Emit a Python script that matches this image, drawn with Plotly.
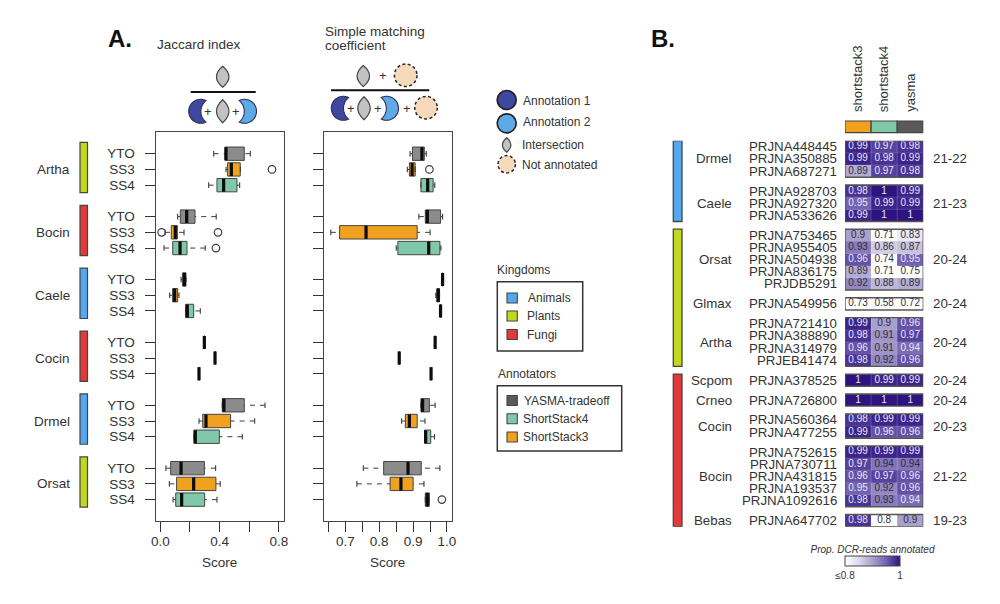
import math
import plotly.graph_objects as go

W, H = 1000, 604
FONT = "Liberation Sans"
INK = "#333333"

# ---------- Panel A data ----------
species = ["Artha", "Bocin", "Caele", "Cocin", "Drmel", "Orsat"]
species_kingdom = ["Plants", "Fungi", "Animals", "Fungi", "Animals", "Plants"]
annotators = ["YTO", "SS3", "SS4"]

j_low = [0.360, 0.443, 0.326, 0.117, 0.032, 0.025, 0.140, 0.063, 0.171, 0.297, 0.369, 0.261, 0.418, 0.261, 0.227, 0.038, 0.061, 0.086]
j_q1 = [0.436, 0.454, 0.382, 0.135, 0.074, 0.084, 0.151, 0.083, 0.171, 0.297, 0.369, 0.261, 0.418, 0.286, 0.227, 0.070, 0.110, 0.104]
j_med = [0.443, 0.479, 0.427, 0.178, 0.101, 0.133, 0.162, 0.097, 0.182, 0.297, 0.369, 0.261, 0.429, 0.308, 0.236, 0.140, 0.225, 0.144]
j_q3 = [0.566, 0.539, 0.517, 0.234, 0.115, 0.180, 0.173, 0.117, 0.225, 0.297, 0.369, 0.261, 0.566, 0.474, 0.398, 0.297, 0.375, 0.299]
j_high = [0.607, 0.540, 0.535, 0.377, 0.160, 0.303, 0.173, 0.126, 0.270, 0.297, 0.369, 0.261, 0.706, 0.636, 0.553, 0.373, 0.404, 0.382]
j_out_row = [1, 4, 4, 5]
j_out_val = [0.753, 0.009, 0.389, 0.375]

s_low = [0.891, 0.883, 0.923, 0.917, 0.657, 0.850, 0.987, 0.967, 0.981, 0.965, 0.859, 0.953, 0.923, 0.866, 0.934, 0.753, 0.734, 0.936]
s_q1 = [0.898, 0.889, 0.923, 0.936, 0.683, 0.855, 0.987, 0.970, 0.981, 0.965, 0.859, 0.953, 0.923, 0.877, 0.934, 0.813, 0.832, 0.936]
s_med = [0.926, 0.897, 0.943, 0.942, 0.761, 0.946, 0.987, 0.974, 0.981, 0.965, 0.859, 0.953, 0.928, 0.889, 0.937, 0.885, 0.864, 0.942]
s_q3 = [0.933, 0.906, 0.959, 0.981, 0.912, 0.979, 0.987, 0.978, 0.981, 0.965, 0.859, 0.953, 0.948, 0.912, 0.952, 0.924, 0.900, 0.948]
s_high = [0.939, 0.906, 0.964, 0.987, 0.950, 0.982, 0.987, 0.978, 0.981, 0.965, 0.859, 0.953, 0.965, 0.935, 0.963, 0.979, 0.932, 0.948]
s_out_row = [1, 17]
s_out_val = [0.948, 0.985]

# ---------- Panel B data ----------
heat_species = ["Drmel", "Caele", "Orsat", "Glmax", "Artha", "Scpom", "Crneo", "Cocin", "Bocin", "Bebas"]
heat_kingdom = ["Animals", "Animals", "Plants", "Plants", "Plants", "Fungi", "Fungi", "Fungi", "Fungi", "Fungi"]
heat_years = ["21-22", "21-23", "20-24", "20-24", "20-24", "20-24", "20-24", "20-23", "21-22", "19-23"]
heat_ids = [
    ["PRJNA448445", "PRJNA350885", "PRJNA687271"],
    ["PRJNA928703", "PRJNA927320", "PRJNA533626"],
    ["PRJNA753465", "PRJNA955405", "PRJNA504938", "PRJNA836175", "PRJDB5291"],
    ["PRJNA549956"],
    ["PRJNA721410", "PRJNA388890", "PRJNA314979", "PRJEB41474"],
    ["PRJNA378525"],
    ["PRJNA726800"],
    ["PRJNA560364", "PRJNA477255"],
    ["PRJNA752615", "PRJNA730711", "PRJNA431815", "PRJNA193537", "PRJNA1092616"],
    ["PRJNA647702"],
]
heat_values = [
    [[0.99, 0.97, 0.98], [0.99, 0.98, 0.99], [0.89, 0.97, 0.98]],
    [[0.98, 1, 0.99], [0.95, 0.99, 0.99], [0.99, 1, 1]],
    [[0.90, 0.71, 0.83], [0.93, 0.86, 0.87], [0.96, 0.74, 0.95], [0.89, 0.71, 0.75], [0.92, 0.88, 0.89]],
    [[0.73, 0.58, 0.72]],
    [[0.99, 0.90, 0.96], [0.98, 0.91, 0.97], [0.96, 0.91, 0.944], [0.98, 0.92, 0.96]],
    [[1, 0.99, 0.99]],
    [[1, 1, 1]],
    [[0.98, 0.99, 0.99], [0.99, 0.96, 0.96]],
    [[0.99, 0.99, 0.99], [0.97, 0.936, 0.936], [0.96, 0.97, 0.96], [0.95, 0.92, 0.96], [0.98, 0.93, 0.944]],
    [[0.98, 0.80, 0.90]],
]
heat_columns = ["shortstack3", "shortstack4", "yasma"]

legend_sets = ["Annotation 1", "Annotation 2", "Intersection", "Not annotated"]
kingdoms = ["Animals", "Plants", "Fungi"]
annotator_names = ["YASMA-tradeoff", "ShortStack4", "ShortStack3"]

# ---------- Styles ----------
KCOL = {"Animals": "#55a8f0", "Plants": "#c2d81e", "Fungi": "#e03a3a"}
FILL = {"YTO": "#8b8b8b", "SS3": "#f0a21f", "SS4": "#7fc8a9"}
ANNOT = {"YASMA-tradeoff": "#595959", "ShortStack4": "#7fc8a9", "ShortStack3": "#f0a21f"}
COLSTRIP = ["#f0a21f", "#7fc8a9", "#595959"]
OUT = "#3d3d3d"
C1, C2, LENS, NOTA = "#3f489f", "#5eaae6", "#c2c2c2", "#f6d9bb"
LABEL_SIZE = 13.3

# ---------- Helpers ----------
def fx(x):
    return x / W

def fy(y):
    return 1 - y / H

fig = go.Figure()
shapes = []
notes = []

def note(x, y, text, size=12, anchor="left", color=INK, angle=0, yanchor="middle"):
    shift = -2 if anchor == "left" else 0
    notes.append(dict(x=fx(x + shift), y=fy(y), xref="paper", yref="paper", text=text, showarrow=False,
                      xanchor=anchor, yanchor=yanchor, textangle=angle,
                      font=dict(family=FONT, size=size, color=color)))

def paper_path(points):
    return "M" + "L".join(f"{fx(a):.5f},{fy(b):.5f}" for a, b in points) + "Z"

def lens(cx, cy, w, h):
    shapes.append(dict(type="path", xref="paper", yref="paper", fillcolor=LENS,
                       line=dict(color="#444444", width=1.2),
                       path=f"M{fx(cx):.5f},{fy(cy-h/2):.5f}Q{fx(cx+w):.5f},{fy(cy):.5f} {fx(cx):.5f},{fy(cy+h/2):.5f}"
                            f"Q{fx(cx-w):.5f},{fy(cy):.5f} {fx(cx):.5f},{fy(cy-h/2):.5f}Z"))

def crescent(x_outer, cy, side, color):
    # side=+1: opens to the right (outer edge at x_outer); side=-1: mirrored
    R, d, r = 12.0, 14.0, 13.8
    cx = x_outer + side * R
    tx = (d * d + R * R - r * r) / (2 * d)
    ty = math.sqrt(R * R - tx * tx)
    a0 = math.atan2(ty, tx)
    pts = []
    n = 40
    for i in range(n + 1):
        a = a0 + (2 * math.pi - 2 * a0) * i / n
        pts.append((cx + side * R * math.cos(a), cy + R * math.sin(a)))
    b0 = math.atan2(ty, tx - d)
    b1 = 2 * math.pi - b0
    for i in range(n + 1):
        a = b1 + (b0 - b1) * i / n
        pts.append((cx + side * (d + r * math.cos(a)), cy + r * math.sin(a)))
    shapes.append(dict(type="path", xref="paper", yref="paper", path=paper_path(pts), fillcolor=color,
                       line=dict(color="#2b2f55", width=1.1)))

def disc(cx, cy, r, color, dashed=False, lw=1.5):
    shapes.append(dict(type="circle", xref="paper", yref="paper",
                       x0=fx(cx - r), x1=fx(cx + r), y0=fy(cy + r), y1=fy(cy - r), fillcolor=color,
                       line=dict(color="#222222", width=lw, dash="3px,2.5px" if dashed else "solid")))

def rect(x0, y0, x1, y1, fill="rgba(0,0,0,0)", line="#333333", lw=1.5):
    shapes.append(dict(type="rect", xref="paper", yref="paper", x0=fx(x0), x1=fx(x1), y0=fy(y1), y1=fy(y0),
                       fillcolor=fill, line=dict(color=line, width=lw)))

def rule(x0, x1, y):
    shapes.append(dict(type="line", xref="paper", yref="paper", x0=fx(x0), x1=fx(x1), y0=fy(y), y1=fy(y),
                       line=dict(color="#111111", width=2)))

# ---------- Boxplots ----------
rows = [g * 4 + a for g in range(len(species)) for a in range(3)]
row_labels = [a for _ in species for a in annotators]

def add_panel(low, q1, med, q3, high, out_row, out_val, xa, ya):
    for k, name in enumerate(annotators):
        idx = [i for i in range(len(rows)) if i % 3 == k]
        fig.add_trace(go.Box(
            y=[rows[i] for i in idx], q1=[q1[i] for i in idx], median=[med[i] for i in idx],
            q3=[q3[i] for i in idx], lowerfence=[q1[i] for i in idx], upperfence=[q3[i] for i in idx],
            orientation="h", width=0.85, whiskerwidth=0, boxpoints=False, name=name, showlegend=False,
            fillcolor=FILL[name], line=dict(color="#444444", width=1), xaxis=xa, yaxis=ya))
    wx, wy = [], []
    for i, r in enumerate(rows):
        if low[i] < q1[i]:
            wx += [low[i], q1[i], None]
            wy += [r, r, None]
        if high[i] > q3[i]:
            wx += [high[i], q3[i], None]
            wy += [r, r, None]
    fig.add_trace(go.Scatter(x=wx, y=wy, mode="lines", line=dict(color=OUT, width=1, dash="5px,5px"),
                             showlegend=False, hoverinfo="skip", xaxis=xa, yaxis=ya))
    cx = [v for i in range(len(rows)) for v in (low[i], high[i]) if low[i] < q3[i]]
    cy = [rows[i] for i in range(len(rows)) for _ in (0, 1) if low[i] < q3[i]]
    fig.add_trace(go.Scatter(x=cx, y=cy, mode="markers", showlegend=False, hoverinfo="skip", xaxis=xa, yaxis=ya,
                             marker=dict(symbol="line-ns", size=4, color=OUT, line=dict(color=OUT, width=1.1))))
    fig.add_trace(go.Scatter(x=med, y=rows, mode="markers", showlegend=False, xaxis=xa, yaxis=ya,
                             marker=dict(symbol="line-ns", size=9.3, color="#0c0c0c",
                                         line=dict(color="#0c0c0c", width=3.2))))
    fig.add_trace(go.Scatter(x=out_val, y=[rows[i] for i in out_row], mode="markers", showlegend=False,
                             xaxis=xa, yaxis=ya,
                             marker=dict(symbol="circle-open", size=7.5, color=OUT, line=dict(color=OUT, width=1.2))))

add_panel(j_low, j_q1, j_med, j_q3, j_high, j_out_row, j_out_val, "x", "y")
add_panel(s_low, s_q1, s_med, s_q3, s_high, s_out_row, s_out_val, "x2", "y2")

# Kingdom strips and species names beside panel A
for g, (sp, king) in enumerate(zip(species, species_kingdom)):
    mid = g * 4 + 1
    shapes.append(dict(type="rect", xref="paper", yref="y", x0=fx(80), x1=fx(87.5), y0=mid - 1.72, y1=mid + 1.48,
                       fillcolor=KCOL[king], line=dict(color="#444444", width=1.2)))
    notes.append(dict(x=fx(72), y=mid, xref="paper", yref="y", text=sp, showarrow=False, xanchor="right",
                      yanchor="middle", font=dict(family=FONT, size=13.5, color=INK)))

# ---------- Heatmap ----------
GAP = 0.633
pos = 0.0
tx, ty, tt, tc = [], [], [], []
for b, (ids, vals) in enumerate(zip(heat_ids, heat_values)):
    ys = [pos + i for i in range(len(ids))]
    fig.add_trace(go.Heatmap(z=vals, x=list(range(3)), y=ys, coloraxis="coloraxis", xaxis="x3", yaxis="y3",
                             showlegend=False))
    for y, label, row in zip(ys, ids, vals):
        notes.append(dict(x=fx(839), y=y, xref="paper", yref="y3", text=label, showarrow=False, xanchor="right",
                          yanchor="middle", font=dict(family=FONT, size=LABEL_SIZE, color=INK)))
        for c, v in enumerate(row):
            tx.append(c)
            ty.append(y)
            tt.append(f"{round(v, 2):g}")
            tc.append("#e9e6f5" if v > 0.94 else "#2e2e3a")
    top, bot = pos - 0.5, pos + len(ids) - 0.5
    mid = (top + bot) / 2
    for c in (0.5, 1.5):
        shapes.append(dict(type="line", xref="x3", yref="y3", x0=c, x1=c, y0=top, y1=bot, layer="above",
                           line=dict(color="rgba(255,255,255,0.18)", width=1)))
    for i in range(1, len(ids)):
        shapes.append(dict(type="line", xref="x3", yref="y3", x0=-0.5, x1=2.5, y0=top + i, y1=top + i, layer="above",
                           line=dict(color="rgba(255,255,255,0.12)", width=1)))
    shapes.append(dict(type="rect", xref="x3", yref="y3", x0=-0.5, x1=2.5, y0=top, y1=bot,
                       fillcolor="rgba(0,0,0,0)", line=dict(color="#555555", width=1.4), layer="above"))
    notes.append(dict(x=fx(733.5), y=mid, xref="paper", yref="y3", text=heat_species[b], showarrow=False,
                      xanchor="right", yanchor="middle", font=dict(family=FONT, size=LABEL_SIZE, color=INK)))
    notes.append(dict(x=fx(931), y=mid, xref="paper", yref="y3", text=heat_years[b], showarrow=False,
                      xanchor="left", yanchor="middle", font=dict(family=FONT, size=LABEL_SIZE, color=INK)))
    pos += len(ids) + GAP
heat_end = pos - GAP - 0.5

fig.add_trace(go.Scatter(x=tx, y=ty, text=tt, mode="text", textfont=dict(family=FONT, size=10, color=tc),
                         showlegend=False, hoverinfo="skip", xaxis="x3", yaxis="y3"))

# Kingdom strips beside the heatmap
pos = 0.0
spans = {}
for ids, king in zip(heat_ids, heat_kingdom):
    a, b = pos - 0.5, pos + len(ids) - 0.5
    lo, hi = spans.get(king, (a, b))
    spans[king] = (min(lo, a), max(hi, b))
    pos += len(ids) + GAP
for king, (a, b) in spans.items():
    shapes.append(dict(type="rect", xref="paper", yref="y3", x0=fx(673.3), x1=fx(682), y0=a, y1=b,
                       fillcolor=KCOL[king], line=dict(color="#444444", width=1.3)))

# Annotator strip and column names
for c, (name, col) in enumerate(zip(heat_columns, COLSTRIP)):
    shapes.append(dict(type="rect", xref="x3", yref="paper", x0=c - 0.5, x1=c + 0.5, y0=fy(132.7), y1=fy(121),
                       fillcolor=col, line=dict(color="#444444", width=1.2)))
    notes.append(dict(x=c, y=fy(114), xref="x3", yref="paper", text=name, showarrow=False, textangle=-90,
                      xanchor="center", yanchor="bottom", font=dict(family=FONT, size=13, color=INK)))

# ---------- Panel titles and formula icons ----------
note(108, 38.5, "<b>A.</b>", size=24, color="#111111")
note(651, 38.5, "<b>B.</b>", size=24, color="#111111")
note(157, 45, "Jaccard index", size=13.5)
note(325, 31.5, "Simple matching", size=13.5)
note(325, 45.2, "coefficient", size=13.5)

lens(222.7, 76.7, 12.5, 21)
rule(190.7, 255.7, 92)
crescent(188.7, 111.3, 1, C1)
note(208, 111.3, "+", size=13, anchor="center")
lens(222.7, 111.3, 12.5, 23)
note(236, 111.3, "+", size=13, anchor="center")
crescent(256.5, 111.3, -1, C2)

lens(363.3, 76, 12.5, 21)
note(383, 75.5, "+", size=13, anchor="center")
disc(405.7, 75.3, 11.3, NOTA, dashed=True)
rule(331, 429.3, 90.3)
crescent(331.3, 108.3, 1, C1)
note(351, 108.3, "+", size=13, anchor="center")
lens(364, 108.3, 12.5, 23)
note(378.3, 108.3, "+", size=13, anchor="center")
crescent(398.5, 108.3, -1, C2)
note(407, 108.3, "+", size=13, anchor="center")
disc(426, 107.7, 11.3, NOTA, dashed=True)

# ---------- Legends ----------
disc(506.7, 100, 9.5, C1, lw=1.7)
disc(506.7, 123.3, 9.5, C2, lw=1.7)
lens(506.7, 145, 8.5, 14.5)
disc(506.7, 164.3, 8.7, NOTA, dashed=True)
for text, x, y in zip(legend_sets, [523.3, 523.3, 522.3, 522.3], [100.7, 122.3, 144.7, 164.7]):
    note(x, y, text, size=12)

note(497, 269.5, "Kingdoms", size=12)
rect(497.3, 281.7, 582.7, 351, lw=1.5)
for name, x, y in zip(kingdoms, [527.7, 526.7, 526.7], [298, 316, 334.5]):
    rect(507, y - 5, 517.3, y + 5, fill=KCOL[name], line="#444444", lw=1.1)
    note(x, y, name, size=12)

note(497.5, 374.3, "Annotators", size=12)
rect(497.3, 385.7, 621.7, 451, lw=1.5)
for name, x, y in zip(annotator_names, [524.3, 523, 523], [400.5, 418.7, 437]):
    rect(507, y - 5, 517.3, y + 5, fill=ANNOT[name], line="#444444", lw=1.1)
    note(x, y, name, size=12)

# ---------- Layout ----------
def xaxis(px0, px1, rng, ticks, labels):
    return dict(domain=[fx(px0), fx(px1)], range=rng, tickmode="array", tickvals=ticks, ticktext=labels,
                ticks="outside", ticklen=10, tickwidth=1.2, tickcolor="#333333", showgrid=False, zeroline=False,
                showline=True, mirror=True, linecolor="#444444", linewidth=1.3, ticklabelstandoff=-2,
                tickfont=dict(family=FONT, size=13.5, color=INK), automargin=False,
                title=dict(text="Score", standoff=9, font=dict(family=FONT, size=13.5, color=INK)))

def yaxis(anchor, labels):
    return dict(domain=[fy(521), fy(131.7)], range=[23.36, -1.4], anchor=anchor, tickmode="array",
                tickvals=rows, ticktext=labels, ticks="outside", ticklen=10, tickwidth=1.2, tickcolor="#333333",
                showgrid=False, zeroline=False, showline=True, mirror=True, linecolor="#444444", linewidth=1.3,
                ticklabelstandoff=7, tickfont=dict(family=FONT, size=13.5, color=INK), automargin=False)

fig.update_layout(
    width=W, height=H, autosize=False, paper_bgcolor="white", plot_bgcolor="white", showlegend=False,
    margin=dict(l=0, r=0, t=0, b=0, pad=0, autoexpand=False), boxmode="overlay",
    font=dict(family=FONT, color=INK),
    xaxis=xaxis(155.7, 283.7, [-0.031, 0.832], [0, 0.2, 0.4, 0.6, 0.8], ["0.0", "", "0.4", "", "0.8"]),
    yaxis=yaxis("x", row_labels),
    xaxis2=xaxis(323.7, 451.7, [0.636, 1.0139], [0.65, 0.7, 0.75, 0.8, 0.85, 0.9, 0.95, 1.0],
                 ["", "0.7", "", "0.8", "", "0.9", "", "1.0"]),
    yaxis2=yaxis("x2", [""] * len(rows)),
    xaxis3=dict(domain=[fx(845), fx(923.3)], range=[-0.5, 2.5], visible=False, anchor="y3"),
    yaxis3=dict(domain=[fy(526.7), fy(140.7)], range=[heat_end, -0.5], visible=False, anchor="x3"),
    coloraxis=dict(cmin=0.8, cmax=1.0,
                   colorscale=[[0, "#ffffff"], [0.25, "#dcd8ec"], [0.5, "#a9a1cb"], [0.75, "#7262b1"], [1, "#2e1480"]],
                   colorbar=dict(orientation="h", lenmode="pixels", len=55, thickness=9.5, x=fx(872.5), xanchor="center",
                                 y=fy(577.5), yanchor="bottom", outlinecolor="#444444", outlinewidth=1, ticks="",
                                 tickmode="array", tickvals=[0.8, 1.0], ticktext=["≤0.8", "1"], xpad=0, ypad=0,
                                 tickfont=dict(family=FONT, size=10, color=INK),
                                 title=dict(text="<i>Prop. DCR-reads annotated</i>", side="top",
                                            font=dict(family=FONT, size=10, color=INK)))),
    shapes=shapes, annotations=notes,
)

fig.write_html("out.html", config={"displayModeBar": False},
               post_script="document.body.style.margin='0';document.body.style.overflow='hidden';")
